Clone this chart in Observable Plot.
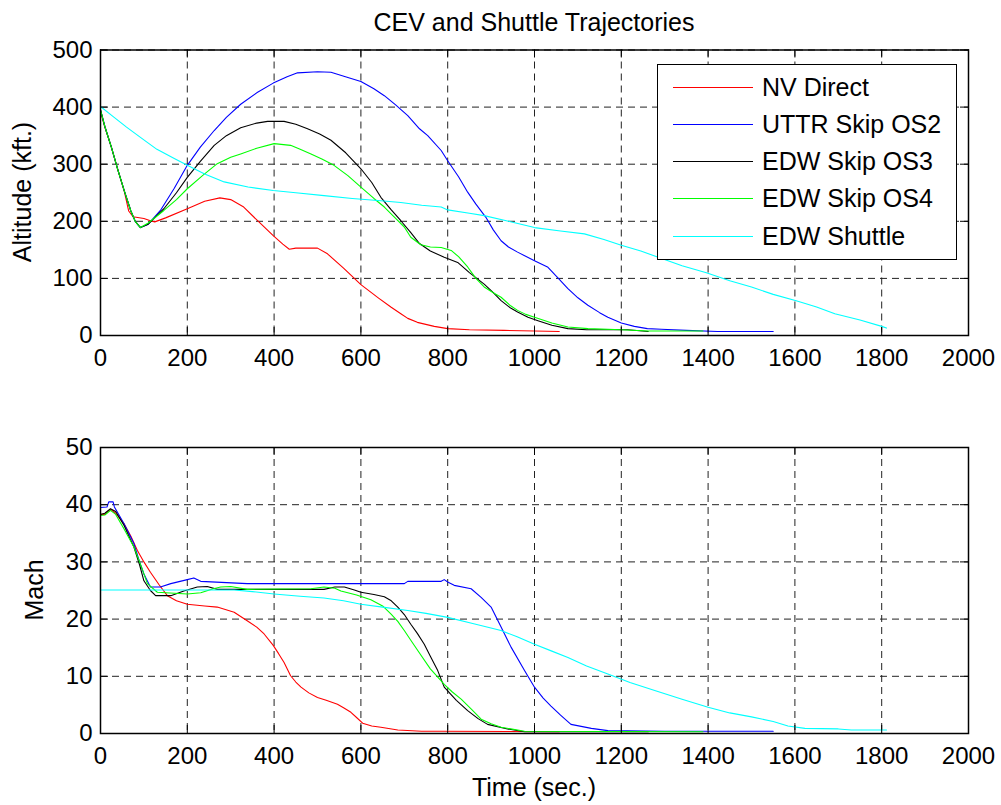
<!DOCTYPE html>
<html><head><meta charset="utf-8">
<script src="https://cdn.jsdelivr.net/npm/d3@7"></script>
<script src="https://cdn.jsdelivr.net/npm/@observablehq/plot@0.6"></script>
<style>
html,body{margin:0;padding:0;overflow:hidden;background:#fff;}
#fig{position:relative;width:1001px;height:805px;font-family:"Liberation Sans",Arial,Helvetica,sans-serif;color:#000;background:#fff;}
#fig svg{position:absolute;left:0;}
.abs{position:absolute;white-space:nowrap;line-height:1;z-index:2;}
#legend{position:absolute;left:657px;top:64px;width:298px;height:194px;border:1.5px solid #000;background:#fff;z-index:2;}
.row{position:absolute;left:0;width:100%;height:0;}
.swatch{position:absolute;left:15px;width:80px;height:0;border-top:1px solid;top:0;}
.lbl{position:absolute;left:104px;top:0;transform:translateY(-50%);font-size:25px;line-height:1;white-space:nowrap;}
</style></head><body><div id="fig"></div><script>
// ---- data (time in s, altitude in kft / Mach) ----
const seriesNames = ["NV Direct", "UTTR Skip OS2", "EDW Skip OS3", "EDW Skip OS4", "EDW Shuttle"];
const xTicks = [0, 200, 400, 600, 800, 1000, 1200, 1400, 1600, 1800, 2000];
const altTicks = [0, 100, 200, 300, 400, 500];
const machTicks = [0, 10, 20, 30, 40, 50];

const nvDirectAlt = [[0,392],[10,365],[25,330],[40,290],[55,252],[65,218],[75,208],[100,205],[115,201],[125,199],[150,206],[200,222],[240,235],[275,241],[300,238],[330,225],[362,201],[398,175],[420,160],[435,151],[450,153],[500,153],[523,143],[560,118],[600,89],[640,66],[669,50],[692,38],[708,30],[730,23],[769,16],[800,12],[850,10],[930,9],[1000,8],[1057,7]];
const uttrOs2Alt = [[0,395],[10,366],[25,330],[40,290],[55,253],[70,218],[80,200],[92,189],[110,195],[138,219],[170,258],[200,298],[230,330],[262,359],[290,382],[323,405],[360,425],[398,442],[430,453],[454,460],[500,462],[531,461],[570,452],[600,445],[630,432],[654,420],[680,404],[708,385],[735,362],[754,350],[785,324],[800,306],[825,278],[846,251],[865,230],[888,207],[905,185],[923,166],[940,155],[961,146],[1000,131],[1030,120],[1055,100],[1077,82],[1100,66],[1123,53],[1150,40],[1169,32],[1200,22],[1230,16],[1260,12],[1292,11],[1350,9],[1422,7],[1550,7]];
const edwOs3Alt = [[0,395],[10,366],[25,330],[40,290],[55,253],[70,218],[80,200],[92,189],[110,195],[146,222],[175,250],[200,277],[230,305],[262,333],[290,350],[323,364],[360,372],[385,375],[423,375],[450,370],[477,362],[505,353],[531,342],[565,320],[600,292],[625,268],[646,242],[670,220],[692,201],[715,180],[735,161],[760,148],[792,137],[823,128],[850,110],[884,90],[905,75],[923,61],[945,48],[961,41],[985,32],[1008,26],[1040,18],[1077,12],[1120,10],[1215,10],[1262,7]];
const edwOs4Alt = [[0,395],[10,366],[25,330],[40,290],[55,253],[70,218],[80,200],[92,189],[110,197],[146,219],[175,238],[200,257],[235,280],[269,301],[300,312],[323,318],[360,328],[400,336],[438,333],[460,326],[485,318],[510,309],[538,298],[570,280],[600,260],[630,240],[654,225],[680,205],[700,190],[715,172],[738,159],[760,155],[785,154],[808,149],[825,138],[846,120],[865,100],[884,85],[905,75],[923,67],[945,52],[961,44],[980,37],[1000,32],[1040,22],[1077,15],[1123,12],[1200,10],[1262,8],[1388,8]];
const shuttleAlt = [[0,401],[30,383],[60,365],[92,347],[130,326],[170,310],[200,298],[240,283],[285,269],[340,260],[398,254],[450,250],[515,245],[580,240],[646,236],[692,233],[740,228],[785,225],[800,220],[850,214],[884,210],[940,200],[1000,189],[1060,183],[1115,178],[1160,168],[1200,158],[1245,148],[1285,137],[1340,122],[1396,110],[1450,96],[1500,85],[1550,72],[1603,61],[1650,50],[1692,38],[1750,27],[1800,16],[1811,13]];

const nvDirectMach = [[0,38.3],[10,38.3],[23,39.2],[35,38.5],[54,36.7],[70,34.5],[85,32],[100,30],[115,28.2],[135,26],[154,24.1],[175,23.2],[200,22.6],[240,22.3],[269,22.1],[308,21.2],[338,19.7],[360,18.6],[377,17.4],[398,15.4],[410,14],[423,12.4],[438,10.1],[450,9],[462,8.1],[480,7.1],[500,6.3],[520,5.8],[546,5.1],[560,4.5],[577,3.7],[590,2.8],[604,1.8],[625,1.3],[646,1.1],[685,0.6],[740,0.4],[785,0.4],[1057,0.3]];
const uttrOs2Mach = [[0,39.5],[15,39.6],[19,40.5],[29,40.5],[32,39.6],[54,36.7],[77,33.2],[90,30],[100,27.9],[115,25.6],[138,25.6],[162,26.2],[200,26.9],[215,27.2],[231,26.6],[338,26.2],[700,26.2],[708,26.6],[785,26.6],[792,26.9],[800,26.5],[815,25.9],[854,25.3],[877,23.8],[900,22.1],[923,18.6],[946,15.1],[977,11],[1000,8.1],[1020,6.2],[1038,4.8],[1060,3.2],[1084,1.6],[1131,0.9],[1169,0.5],[1300,0.4],[1550,0.4]];
const edwOs3Mach = [[0,38.3],[10,38.5],[23,39.3],[35,38.8],[54,36.4],[77,32.6],[90,29.5],[100,26.7],[115,25],[127,24.1],[162,24.1],[192,24.9],[223,25.6],[246,25.7],[269,25.2],[515,25.2],[540,25.6],[562,25.6],[585,25.1],[600,24.7],[630,24.3],[654,23.9],[670,23.2],[685,22.1],[700,20.8],[715,19.1],[730,17.5],[746,15.6],[760,13.5],[777,11],[792,8.1],[820,5.8],[846,4],[870,2.6],[892,1.6],[938,0.8],[977,0.3],[1262,0.3]];
const edwOs4Mach = [[0,38.1],[10,38.2],[23,39],[35,38.3],[54,35.8],[77,32.6],[95,29],[108,26.2],[131,24.7],[200,24.4],[231,24.6],[260,25.3],[277,25.6],[300,25.7],[338,25.2],[485,25.3],[515,25.6],[540,25.4],[554,24.9],[590,24.2],[623,23.4],[650,22.3],[669,20.9],[685,19.6],[700,18],[715,16.3],[731,14.5],[760,11.3],[785,9.2],[792,8.6],[810,7.3],[831,6],[855,4.2],[877,2.5],[900,1.7],[923,1.1],[977,0.4],[1388,0.3]];
const shuttleMach = [[0,25.1],[308,25.1],[350,24.8],[400,24.4],[460,24],[515,23.7],[560,23.2],[600,22.6],[650,22.1],[708,21.5],[750,21],[800,20.3],[860,19.2],[923,18],[960,16.9],[1000,15.6],[1040,14.4],[1077,13.3],[1120,11.8],[1169,10.4],[1220,8.9],[1277,7.5],[1340,6],[1400,4.6],[1450,3.6],[1500,2.9],[1550,2.1],[1584,1.3],[1623,0.9],[1700,0.8],[1730,0.6],[1811,0.6]];

// ---- style ----
const colors = ["#ff0000", "#0000ff", "#000000", "#00ff00", "#00ffff"];
const FONT = '"Liberation Sans", Arial, Helvetica, sans-serif';
const W = 1001, ML = 100, MR = 33;

function panel({series, yDomain, yTicks, height, marginTop, marginBottom}) {
  const fw = W - ML - MR, fh = height - marginTop - marginBottom, tl = 8;
  const grid = {stroke: "#222", strokeOpacity: 1, strokeWidth: 1, strokeDasharray: "7,5"};
  return Plot.plot({
    width: W, height, marginLeft: ML, marginRight: MR, marginTop, marginBottom,
    x: {domain: [0, 2000]},
    y: {domain: yDomain},
    style: {fontFamily: FONT, fontSize: "24px", background: "white", color: "black", overflow: "visible"},
    marks: [
      Plot.gridX(xTicks, grid),
      Plot.gridY(yTicks, grid),
      ...series.map((pts, i) => Plot.line(pts, {x: d => d[0], y: d => d[1], stroke: colors[i], strokeWidth: 1.1})),
      Plot.tickX(xTicks, {insetTop: fh - tl, stroke: "#000"}),
      Plot.tickX(xTicks, {insetBottom: fh - tl, stroke: "#000"}),
      Plot.tickY(yTicks, {insetRight: fw - tl, stroke: "#000"}),
      Plot.tickY(yTicks, {insetLeft: fw - tl, stroke: "#000"}),
      Plot.frame({stroke: "#000", strokeWidth: 1.5}),
      Plot.axisX(xTicks, {tickSize: 0, tickPadding: 13, tickFormat: "d", label: null}),
      Plot.axisY(yTicks, {tickSize: 0, tickPadding: 8, tickFormat: "d", label: null})
    ]
  });
}

const fig = document.getElementById("fig");
const topPanel = panel({series: [nvDirectAlt, uttrOs2Alt, edwOs3Alt, edwOs4Alt, shuttleAlt], yDomain: [0, 500], yTicks: altTicks, height: 400, marginTop: 49.5, marginBottom: 65});
topPanel.style.top = "0px";
fig.appendChild(topPanel);
const bottomPanel = panel({series: [nvDirectMach, uttrOs2Mach, edwOs3Mach, edwOs4Mach, shuttleMach], yDomain: [0, 50], yTicks: machTicks, height: 405, marginTop: 47, marginBottom: 72});
bottomPanel.style.top = "400px";
fig.appendChild(bottomPanel);

function addText(txt, cx, cy, size, rotate) {
  const d = document.createElement("div");
  d.className = "abs";
  d.textContent = txt;
  d.style.fontSize = size + "px";
  d.style.left = cx + "px";
  d.style.top = cy + "px";
  d.style.transform = "translate(-50%,-50%)" + (rotate ? " rotate(-90deg)" : "");
  fig.appendChild(d);
}
addText("CEV and Shuttle Trajectories", 534, 21.5, 25, false);
addText("Altitude (kft.)", 22, 192, 25, true);
addText("Mach", 34, 590, 25, true);
addText("Time (sec.)", 534, 787, 25, false);

const leg = document.createElement("div");
leg.id = "legend";
seriesNames.forEach((name, i) => {
  const r = document.createElement("div");
  r.className = "row";
  r.style.top = (21.5 + i * 37.3) + "px";
  const s = document.createElement("div");
  s.className = "swatch";
  s.style.borderTopColor = colors[i];
  const l = document.createElement("div");
  l.className = "lbl";
  l.textContent = name;
  r.appendChild(s); r.appendChild(l);
  leg.appendChild(r);
});
fig.appendChild(leg);
</script></body></html>
